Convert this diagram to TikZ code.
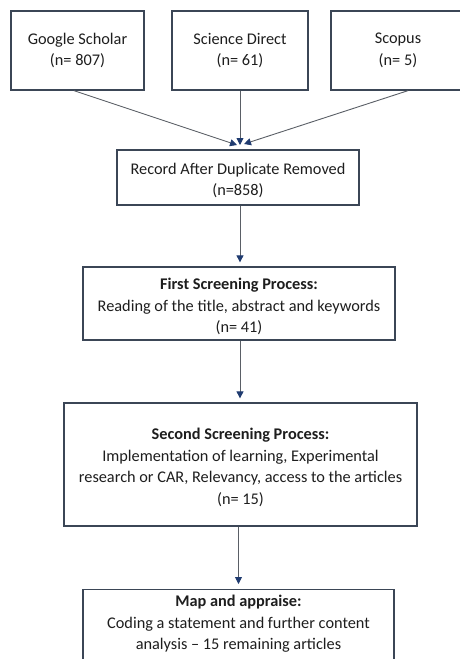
\documentclass[tikz,border=0pt]{standalone}
\usepackage{fontspec}
\setmainfont{Carlito}
\usetikzlibrary{arrows.meta}
\definecolor{boxline}{HTML}{3B4656}
\definecolor{arrline}{HTML}{5A5F66}
\definecolor{headcol}{HTML}{1F3B70}
\definecolor{txt}{HTML}{1E1E1E}
\newcommand\topstrut[1]{\rule{0pt}{#1}}
\begin{document}
\begin{tikzpicture}[x=1pt,y=-1pt,
  flowfont/.style={text=txt,font=\fontsize{16.3}{21.5}\selectfont},
  flowbox/.style={flowfont,draw=boxline,line width=1.3pt,fill=white,inner sep=0pt,align=center},
  arr/.style={draw=arrline,line width=0.9pt,-{Triangle[length=7pt,width=7pt,color=headcol]}}]
\path[use as bounding box] (0,0) rectangle (460,659);
\clip (0,0) rectangle (460,659);
\fill[white] (0,0) rectangle (460,659);
% source boxes
\node[flowbox,minimum width=133pt,minimum height=79pt] (gs) at (77.5,50.5) {Google Scholar\\(n= 807)};
\node[flowbox,minimum width=136pt,minimum height=79pt] (sd) at (240,50.5) {Science Direct\\(n= 61)};
\node[flowbox,minimum width=134pt,minimum height=79pt] (sc) at (398,50.5) {Scopus\\(n= 5)};
% record
\node[flowbox,minimum width=242pt,minimum height=55pt] (rec) at (238,177.5) {\topstrut{17pt}Record After Duplicate Removed\\(n=858)};
% first screening
\node[flowbox,minimum width=312pt,minimum height=73pt] (fs) at (239,303.5) {\topstrut{17.5pt}\textbf{First Screening Process:}\\Reading of the title, abstract and keywords\\(n= 41)};
% second screening
\node[flowbox,minimum width=353pt,minimum height=123pt] (ss) at (240.5,464.5) {\topstrut{17pt}\textbf{Second Screening Process:}\\Implementation of learning, Experimental\\research or CAR, Relevancy, access to the articles\\(n= 15)};
% map and appraise
\node[flowbox,anchor=north,minimum width=311pt,minimum height=100pt] (ma) at (238.5,589) {};
\node[flowfont,align=center,anchor=north,inner sep=0pt] (matext) at (238.5,595) {\textbf{Map and appraise:}\\Coding a statement and further content\\analysis -- 15 remaining articles};
% converging points
\coordinate (t1) at (237,145);
\coordinate (t2) at (240,145);
\coordinate (t3) at (244,144);
\draw[arr] ([xshift=-3.5pt]gs.south) -- (t1);
\draw[arr] (sd.south) -- (t2);
\draw[arr] ([xshift=10pt]sc.south) -- (t3);
\draw[arr,shorten >=4pt] ([xshift=2pt]rec.south) -- ([xshift=2pt]rec.south |- fs.north);
\draw[arr,shorten >=4pt] ([xshift=2pt]rec.south |- fs.south) -- ([xshift=2pt]rec.south |- ss.north);
\draw[arr,shorten >=5pt] (ss.south -| ma.north) -- (ma.north);
\end{tikzpicture}
\end{document}
